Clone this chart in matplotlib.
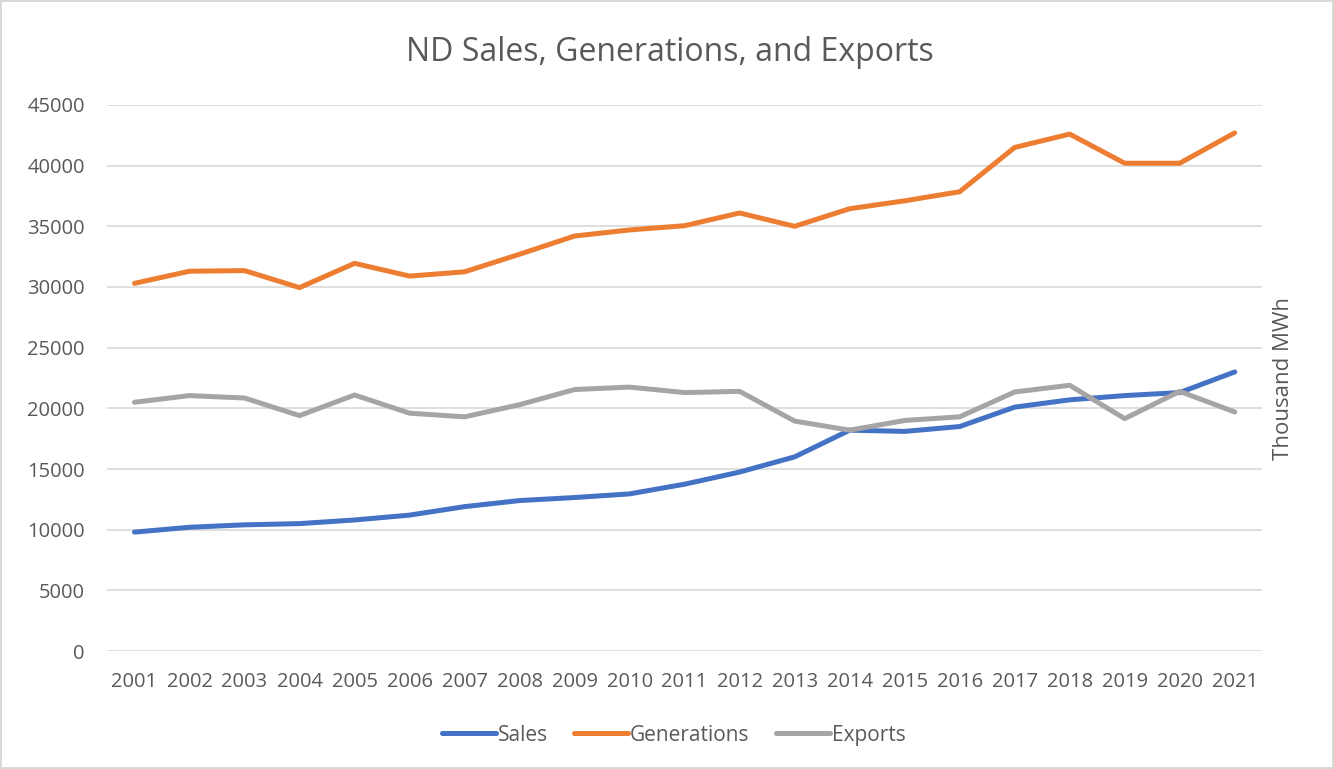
import matplotlib
matplotlib.use("Agg")
import matplotlib.pyplot as plt

plt.rcParams['font.family'] = ['Open Sans', 'DejaVu Sans']

years = [2001, 2002, 2003, 2004, 2005, 2006, 2007, 2008, 2009, 2010, 2011,
         2012, 2013, 2014, 2015, 2016, 2017, 2018, 2019, 2020, 2021]
sales = [9800, 10200, 10400, 10500, 10800, 11200, 11900, 12400, 12650, 12950, 13750,
         14750, 16000, 18200, 18100, 18500, 20100, 20700, 21050, 21300, 23000]
generations = [30300, 31300, 31350, 29950, 31950, 30900, 31250, 32700, 34200, 34700, 35050,
               36100, 35000, 36450, 37100, 37850, 41500, 42600, 40200, 40200, 42700]
exports = [20500, 21050, 20850, 19400, 21100, 19600, 19300, 20300, 21550, 21750, 21300,
           21400, 18950, 18200, 19000, 19300, 21350, 21900, 19150, 21400, 19700]
yticks = list(range(0, 45001, 5000))

text_color = '#595959'
grid_color = '#D9D9D9'

fig = plt.figure(figsize=(13.34, 7.69), dpi=100)
fig.patch.set_edgecolor(grid_color)
fig.patch.set_linewidth(1.5)
ax = fig.add_axes([0.0802, 0.1534, 0.866, 0.7101])

x = list(range(len(years)))
ax.plot(x, sales, color='#4472C4', lw=3.6, solid_capstyle='round', solid_joinstyle='round', label='Sales')
ax.plot(x, generations, color='#ED7D31', lw=3.6, solid_capstyle='round', solid_joinstyle='round', label='Generations')
ax.plot(x, exports, color='#A5A5A5', lw=3.6, solid_capstyle='round', solid_joinstyle='round', label='Exports')

ax.set_xlim(-0.5, len(years) - 0.5)
ax.set_ylim(0, 45000)
ax.set_xticks(x)
ax.set_xticklabels([str(y) for y in years])
ax.set_yticks(yticks)
ax.set_yticklabels([str(v) for v in yticks])
ax.tick_params(axis='both', length=0, labelsize=14.5, colors=text_color)
ax.tick_params(axis='x', pad=15)
ax.tick_params(axis='y', pad=16)
ax.grid(axis='y', color=grid_color, lw=1.2)
ax.set_axisbelow(True)
for s in ax.spines.values():
    s.set_visible(False)

ax.yaxis.set_label_position('right')
ax.set_ylabel('Thousand MWh', fontsize=16, color=text_color, labelpad=8)

fig.text(0.502, 0.932, 'ND Sales, Generations, and Exports', ha='center', va='center',
         fontsize=23, color=text_color)

fig.legend(loc='center', bbox_to_anchor=(0.505, 0.044), ncol=3, frameon=False,
           fontsize=15, labelcolor=text_color, handlelength=2.6, handletextpad=0.1,
           columnspacing=1.25)

fig.savefig('out.png', dpi=100, edgecolor=fig.get_edgecolor())
